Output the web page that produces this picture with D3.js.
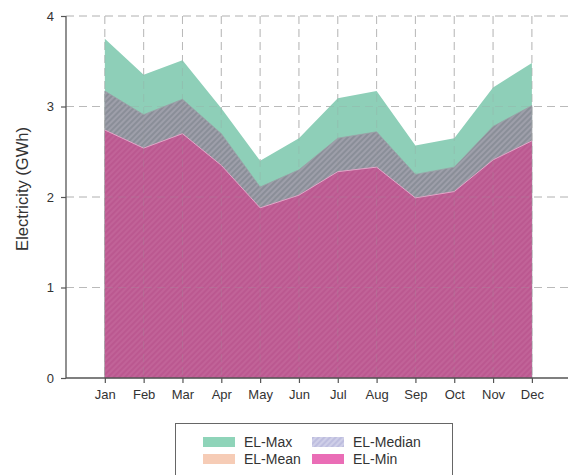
<!DOCTYPE html>
<html>
<head>
<meta charset="utf-8">
<script src="https://cdn.jsdelivr.net/npm/d3@7"></script>
<style>
  html, body { margin: 0; padding: 0; background: #fff; }
  svg { display: block; }
  text { font-family: "Liberation Sans", Arial, sans-serif; fill: #333; }
</style>
</head>
<body>
<svg id="chart" width="568" height="475"></svg>
<script>
// Monthly electricity statistics (GWh)
const months = ["Jan","Feb","Mar","Apr","May","Jun","Jul","Aug","Sep","Oct","Nov","Dec"];
const elMax    = [3.75, 3.35, 3.51, 2.98, 2.40, 2.65, 3.09, 3.17, 2.57, 2.65, 3.21, 3.48];
const elMean   = [2.95, 2.72, 2.88, 2.52, 2.00, 2.16, 2.46, 2.52, 2.12, 2.20, 2.58, 2.80];
const elMedian = [3.17, 2.91, 3.08, 2.70, 2.11, 2.30, 2.65, 2.72, 2.25, 2.33, 2.78, 3.01];
const elMin    = [2.74, 2.54, 2.70, 2.35, 1.88, 2.02, 2.28, 2.33, 1.99, 2.06, 2.41, 2.62];
const yTicks   = [0, 1, 2, 3, 4];

const svg = d3.select("#chart");
const plotL = 66, plotR = 568, plotT = 16, plotB = 378;

const x = d3.scaleLinear().domain([-1, 11.93]).range([plotL, plotR]);
const y = d3.scaleLinear().domain([0, 4]).range([plotB, plotT]);

// Hatch patterns
const defs = svg.append("defs");
function hatch(id, base, stripe, w) {
  const p = defs.append("pattern")
    .attr("id", id).attr("patternUnits", "userSpaceOnUse")
    .attr("width", 4).attr("height", 4)
    .attr("patternTransform", "rotate(45)");
  p.append("rect").attr("width", 4).attr("height", 4).attr("fill", base);
  p.append("line").attr("x1", 1).attr("x2", 1).attr("y1", 0).attr("y2", 4)
    .attr("stroke", stripe).attr("stroke-width", w);
}
hatch("hatchMedian", "#8a8e98", "#a9a9b4", 1.3);
hatch("hatchMin", "#bb5890", "#c66a9d", 1.2);
hatch("hatchMedianKey", "#cfcfe8", "#b5b5da", 1.3);

// Grid drawn beneath the areas
function drawGrid(g, color, op) {
  g.selectAll(".h").data(yTicks.filter(d => d > 0)).join("line")
    .attr("x1", plotL).attr("x2", plotR)
    .attr("y1", d => y(d)).attr("y2", d => y(d))
    .attr("stroke", color).attr("stroke-opacity", op)
    .attr("stroke-dasharray", "8,5");
  g.selectAll(".v").data(months).join("line")
    .attr("x1", (d, i) => x(i)).attr("x2", (d, i) => x(i))
    .attr("y1", plotT).attr("y2", plotB)
    .attr("stroke", color).attr("stroke-opacity", op)
    .attr("stroke-dasharray", "8,5");
}
drawGrid(svg.append("g"), "#c4c4c4", 1);

const area = vals => d3.area()
  .x((d, i) => x(i)).y0(y(0)).y1(d => y(d))(vals);

svg.append("path").attr("d", area(elMax)).attr("fill", "#8ecfb8");
svg.append("path").attr("d", area(elMean)).attr("fill", "#f3c6ae");
svg.append("path").attr("d", area(elMedian)).attr("fill", "url(#hatchMedian)")
  .attr("stroke", "#9aa0a6").attr("stroke-width", 0.8);
svg.append("path").attr("d", area(elMin)).attr("fill", "url(#hatchMin)");
svg.append("path")
  .attr("d", d3.line().x((d, i) => x(i)).y(d => y(d))(elMin))
  .attr("fill", "none").attr("stroke", "#e2a6c8").attr("stroke-width", 1);

// Faint grid seen through the filled areas
drawGrid(svg.append("g"), "#9a9a9a", 0.25);

// Axes
const yAxis = svg.append("g").attr("transform", `translate(${plotL},0)`)
  .call(d3.axisLeft(y).tickValues(yTicks).tickFormat(d3.format("d")).tickSizeOuter(0).tickSize(5).tickPadding(7));
const xAxis = svg.append("g").attr("transform", `translate(0,${plotB})`)
  .call(d3.axisBottom(x).tickValues(d3.range(months.length)).tickFormat(i => months[i])
    .tickSizeOuter(0).tickSize(5).tickPadding(7));
[yAxis, xAxis].forEach(a => {
  a.select(".domain").attr("stroke", "#555").attr("stroke-width", 1.3);
  a.selectAll(".tick line").attr("stroke", "#555").attr("stroke-width", 1.2);
  a.selectAll(".tick text").attr("font-size", 13).attr("fill", "#2a2a2a")
    .attr("font-family", "Liberation Sans, Arial, sans-serif");
});
yAxis.select(".domain").attr("d", `M0,${plotT}V${plotB}`);
xAxis.select(".domain").attr("d", `M${plotL},0H${plotR}`);

svg.append("text")
  .attr("transform", `translate(28,189) rotate(-90)`)
  .attr("text-anchor", "middle").attr("font-size", 16.5).attr("fill", "#2a2a2a")
  .text("Electricity (GWh)");

// Legend
const legend = svg.append("g");
legend.append("rect").attr("x", 175.5).attr("y", 423.5).attr("width", 277).attr("height", 70)
  .attr("fill", "#fff").attr("stroke", "#666").attr("stroke-width", 1);
const keys = [
  { name: "EL-Max", fill: "#8fd4b9", col: 0, row: 0 },
  { name: "EL-Median", fill: "url(#hatchMedianKey)", col: 1, row: 0 },
  { name: "EL-Mean", fill: "#f6ccb6", col: 0, row: 1 },
  { name: "EL-Min", fill: "#ea6db6", col: 1, row: 1 }
];
const item = legend.selectAll(".item").data(keys).join("g")
  .attr("transform", d => `translate(${d.col ? 312 : 203},${d.row ? 454 : 437})`);
item.append("rect").attr("width", 32).attr("height", 10).attr("fill", d => d.fill);
item.append("text").attr("x", 41).attr("y", 10).attr("font-size", 14).attr("fill", "#2a2a2a")
  .text(d => d.name);
</script>
</body>
</html>
